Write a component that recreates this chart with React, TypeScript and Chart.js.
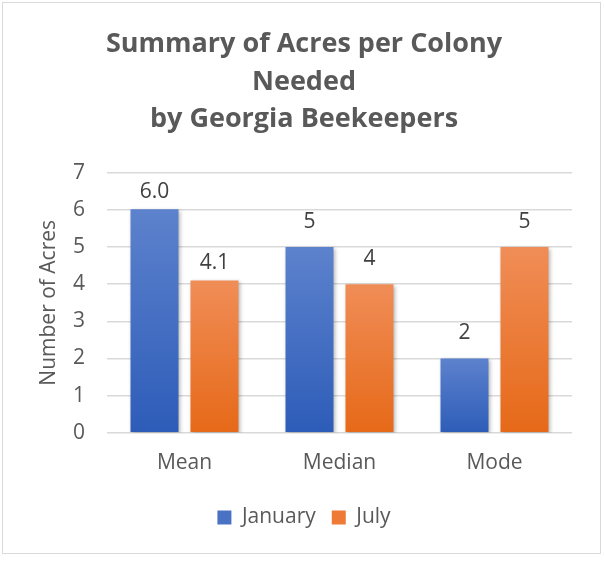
import React, { useEffect, useRef } from "react";
import { Chart, registerables } from "chart.js";

Chart.register(...registerables);

const categories = ["Mean", "Median", "Mode"];
const januaryValues = [6.02, 5, 2];
const julyValues = [4.1, 4, 5];
const januaryLabels = ["6.0", "5", "2"];
const julyLabels = ["4.1", "4", "5"];
const yTicks = [0, 1, 2, 3, 4, 5, 6, 7];
const titleLines = ["Summary of Acres per Colony", "Needed", "by Georgia Beekeepers"];

const FONT = "'Open Sans', sans-serif";
const GRAY = "#595959";
const FS = 21;

function gradientFor(top: string, bottom: string) {
  return (ctx: any) => {
    const chart = ctx.chart;
    const y = chart.scales?.y;
    if (!y || ctx.type !== "data") return bottom;
    const v = ctx.parsed?.y ?? ctx.raw;
    const yTop = y.getPixelForValue(v);
    const yBot = y.getPixelForValue(0);
    if (!isFinite(yTop) || !isFinite(yBot) || yTop === yBot) return bottom;
    const g = chart.ctx.createLinearGradient(0, yTop, 0, yBot);
    g.addColorStop(0, top);
    g.addColorStop(1, bottom);
    return g;
  };
}

const shadowPlugin = {
  id: "barShadow",
  beforeDatasetsDraw(chart: any) {
    const c = chart.ctx;
    c.save();
    c.shadowColor = "rgba(0,0,0,0.3)";
    c.shadowBlur = 4;
    c.shadowOffsetX = 1.5;
    c.shadowOffsetY = 1.5;
  },
  afterDatasetsDraw(chart: any) {
    chart.ctx.restore();
  },
};

const labelPlugin = {
  id: "valueLabels",
  afterDraw(chart: any) {
    const c = chart.ctx;
    const all = [januaryLabels, julyLabels];
    c.save();
    c.font = `${FS}px ${FONT}`;
    c.fillStyle = "#404040";
    c.textAlign = "center";
    c.textBaseline = "middle";
    chart.data.datasets.forEach((_ds: any, di: number) => {
      const meta = chart.getDatasetMeta(di);
      meta.data.forEach((bar: any, i: number) => {
        const text = all[di][i];
        const off = text.includes(".") ? 17 : 25;
        c.fillText(text, bar.x, bar.y - off);
      });
    });
    c.restore();
  },
};

export default function App() {
  const ref = useRef<HTMLCanvasElement>(null);
  useEffect(() => {
    if (!ref.current) return;
    const chart = new Chart(ref.current, {
      type: "bar",
      data: {
        labels: categories,
        datasets: [
          {
            label: "January",
            data: januaryValues,
            backgroundColor: gradientFor("#5d82cd", "#2d5cb8"),
            borderWidth: 0,
            categoryPercentage: 0.774,
            barPercentage: 0.8,
          },
          {
            label: "July",
            data: julyValues,
            backgroundColor: gradientFor("#f08d57", "#e66918"),
            borderWidth: 0,
            categoryPercentage: 0.774,
            barPercentage: 0.8,
          },
        ],
      },
      options: {
        responsive: false,
        animation: false,
        devicePixelRatio: 1,
        layout: { padding: { left: 36, right: 32, top: 0, bottom: 23 } },
        plugins: {
          title: {
            display: true,
            text: titleLines,
            color: GRAY,
            font: { family: FONT, size: 27, weight: "bold", lineHeight: 1.38 },
            padding: { top: 26, bottom: 35 },
          },
          legend: {
            position: "bottom",
            labels: {
              color: GRAY,
              font: { family: FONT, size: FS },
              boxWidth: 14,
              boxHeight: 14,
              padding: 16,
              generateLabels: (ch: any) =>
                ch.data.datasets.map((ds: any, i: number) => ({
                  text: ds.label,
                  fillStyle: i === 0 ? "#4a72c4" : "#ee7a35",
                  strokeStyle: "transparent",
                  lineWidth: 0,
                  datasetIndex: i,
                  fontColor: GRAY,
                })),
            },
          },
          tooltip: { enabled: false },
        },
        scales: {
          x: {
            grid: { display: false, drawTicks: false },
            border: { display: false },
            ticks: { color: GRAY, font: { family: FONT, size: FS }, padding: 18 },
            afterFit: (s: any) => {
              s.height = s.height - 3;
            },
          },
          y: {
            min: 0,
            max: 7,
            afterBuildTicks: (s: any) => {
              s.ticks = yTicks.map((v) => ({ value: v }));
            },
            afterFit: (s: any) => {
              s.width = 71;
            },
            grid: { color: "#d9d9d9", lineWidth: 1.5, drawTicks: false },
            border: { display: false },
            ticks: { color: GRAY, font: { family: FONT, size: FS }, padding: 22 },
            title: {
              display: true,
              text: "Number of Acres",
              color: GRAY,
              font: { family: FONT, size: FS },
              padding: { top: 0, bottom: 10 },
            },
          },
        },
      },
      plugins: [shadowPlugin, labelPlugin],
    });
    return () => chart.destroy();
  }, []);

  return (
    <div style={{ position: "fixed", left: 0, top: 0, width: 604, height: 561, background: "#fff" }}>
      <div
        style={{
          position: "absolute",
          left: 2,
          top: 2,
          width: 599,
          height: 552,
          border: "1.5px solid #d9d9d9",
          boxSizing: "border-box",
        }}
      />
      <canvas ref={ref} width={604} height={561} style={{ position: "absolute", left: 0, top: 0 }} />
    </div>
  );
}
